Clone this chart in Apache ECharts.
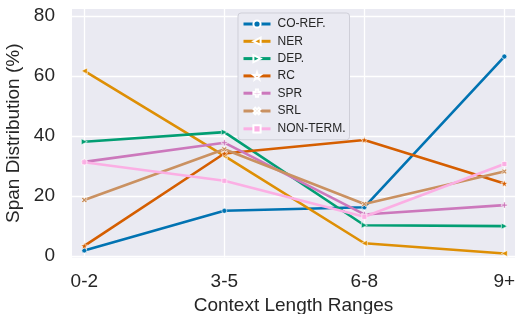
<!DOCTYPE html>
<html>
<head>
<meta charset="utf-8">
<script src="https://cdn.jsdelivr.net/npm/echarts@6/dist/echarts.min.js"></script>
<style>
html,body{margin:0;padding:0;background:#ffffff;}
#chart{width:515px;height:314px;}
</style>
</head>
<body>
<div id="chart"></div>
<script>
var categories = ['0-2', '3-5', '6-8', '9+'];
var yTicks = [0, 20, 40, 60, 80];
var seriesNames = ['CO-REF.', 'NER', 'DEP.', 'RC', 'SPR', 'SRL', 'NON-TERM.'];
var coref   = [1.9, 15.1, 16.3, 66.5];
var ner     = [61.7, 33.4, 4.3, 0.9];
var dep     = [38.1, 41.3, 10.3, 10.0];
var rc      = [3.4, 34.2, 38.7, 24.2];
var spr     = [31.4, 37.8, 13.9, 17.0];
var srl     = [18.7, 35.6, 17.4, 28.2];
var nonterm = [31.3, 25.1, 13.1, 30.7];

var seriesValues = [coref, ner, dep, rc, spr, srl, nonterm];
var colors = ['#0173b2', '#de8f05', '#029e73', '#d55e00', '#cc78bc', '#ca9161', '#fbafe4'];
var plusPath = 'path://M-3,-10H3V-3H10V3H3V10H-3V3H-10V-3H-3Z';
var starPath = 'path://M0,-10L2.35,-3.24L9.51,-3.09L3.8,1.24L5.88,8.09L0,4L-5.88,8.09L-3.8,1.24L-9.51,-3.09L-2.35,-3.24Z';
var symbols = ['circle', 'triangle', 'triangle', starPath, plusPath, plusPath, 'rect'];
var rotates = [0, 90, -90, 0, 0, 45, 0];
var sizes = [5, 6, 6, 7, 6, 6, 5];

var series = seriesNames.map(function (name, i) {
  return {
    name: name,
    type: 'line',
    data: seriesValues[i].map(function (v, j) { return [j, v]; }),
    symbol: symbols[i],
    symbolRotate: rotates[i],
    symbolSize: sizes[i],
    showSymbol: true,
    z: 2 + i,
    lineStyle: { color: colors[i], width: 2.6 },
    itemStyle: { color: colors[i], borderColor: '#ffffff', borderWidth: 0.6 },
    emphasis: { disabled: true },
    animation: false
  };
});

var chart = echarts.init(document.getElementById('chart'), null, { renderer: 'canvas' });
chart.setOption({
  animation: false,
  color: colors,
  textStyle: { fontFamily: 'Liberation Sans, Arial, sans-serif' },
  grid: {
    left: 72, right: 0, top: 9, bottom: 56.5,
    outerBoundsMode: 'none',
    containLabel: false,
    show: true, backgroundColor: '#eaeaf2', borderWidth: 0
  },
  legend: {
    data: seriesNames,
    orient: 'vertical',
    left: 238, top: 13,
    padding: [5, 4, 5, 4],
    itemWidth: 27, itemHeight: 9, itemGap: 5.3,
    backgroundColor: '#eaeaf2',
    borderColor: '#cfcfd8', borderWidth: 1, borderRadius: 3,
    lineStyle: { width: 3 },
    textStyle: { fontSize: 12, color: '#262626', lineHeight: 12, padding: [0, 0, 0, 2] }
  },
  xAxis: {
    type: 'value',
    min: -0.0879, max: 3.076,
    name: 'Context Length Ranges',
    nameLocation: 'middle',
    nameGap: 38,
    nameTextStyle: { fontSize: 19, color: '#262626' },
    axisLine: { show: false },
    axisTick: { show: false, customValues: [0, 1, 2, 3] },
    axisLabel: {
      customValues: [0, 1, 2, 3],
      formatter: function (v) { return categories[Math.round(v)]; },
      fontSize: 19, color: '#262626', margin: 15
    },
    splitLine: { show: true, lineStyle: { color: '#ffffff', width: 1.3 } }
  },
  yAxis: {
    type: 'value',
    min: -0.45, max: 82.33,
    name: 'Span Distribution (%)',
    nameLocation: 'middle',
    nameGap: 42,
    nameTextStyle: { fontSize: 19, color: '#262626' },
    axisLine: { show: false },
    axisTick: { show: false, customValues: yTicks },
    axisLabel: {
      customValues: yTicks,
      fontSize: 19, color: '#262626', margin: 17
    },
    splitLine: { show: true, lineStyle: { color: '#ffffff', width: 1.3 } }
  },
  series: series
});
</script>
</body>
</html>
